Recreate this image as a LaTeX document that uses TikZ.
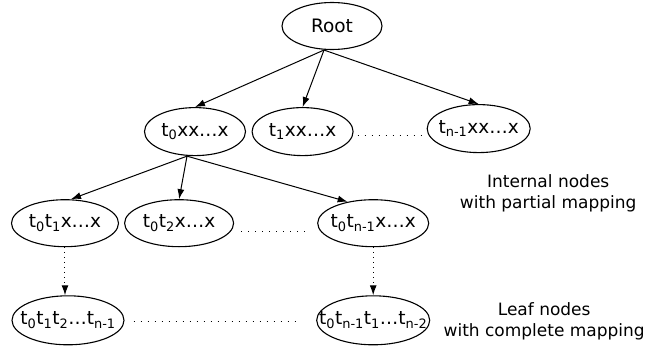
\documentclass[tikz,border=0pt]{standalone}
\usepackage{fontspec}
\setmainfont{DejaVu Sans}
\usetikzlibrary{positioning,shapes.geometric,arrows.meta}
\newcommand{\nlab}[1]{\makebox[0pt]{#1}}

\begin{document}
\begin{tikzpicture}[ellnode/.style={ellipse,draw,line width=1.1pt,inner sep=0pt,minimum height=47pt},
		textnode/.style={align=center,font=\fontsize{17}{21.5}\selectfont},
		edge/.style={line width=1pt,-{Latex[length=10pt,width=7pt]}},
		dotedge/.style={edge,dash pattern=on 1pt off 4pt},
		dotline/.style={line width=1pt,dash pattern=on 1pt off 6pt},
		font=\fontsize{18.5}{21.5}\selectfont]
		\useasboundingbox (-332pt,26pt) rectangle ++(645pt,-348pt);

		\node[ellnode,minimum width=100pt]	at (0,0)												(root)	{\nlab{Root}};
		\node[ellnode,minimum width=101pt,minimum height=48pt,node distance=57pt,below=of root,xshift=-137pt]	(t0)	{\nlab{t\textsubscript{0}xx…x}};
		\node[ellnode,minimum width=101pt,minimum height=48pt,node distance=5.5pt,right=of t0]				(t1)	{\nlab{t\textsubscript{1}xx…x}};
		\node[ellnode,minimum width=103pt,minimum height=48pt,node distance=73pt,right=of t1,yshift=3pt]	(tn1)	{\nlab{t\textsubscript{n-1}xx…x}};
		\node[ellnode,minimum width=107pt,node distance=43pt,below=of t0,xshift=-130pt]		(t0t1)	{\nlab{t\textsubscript{0}t\textsubscript{1}x…x}};
		\node[ellnode,minimum width=109pt,node distance=5pt,right=of t0t1]					(t0t2)	{\nlab{t\textsubscript{0}t\textsubscript{2}x…x}};
		\node[ellnode,minimum width=111pt,node distance=83pt,right=of t0t2]					(t0tn1)	{\nlab{t\textsubscript{0}t\textsubscript{n-1}x…x}};
		\node[ellnode,minimum width=112pt,minimum height=49pt,node distance=48pt,below=of t0t1,xshift=3pt]	(leaf1)	{\nlab{t\textsubscript{0}t\textsubscript{1}t\textsubscript{2}…t\textsubscript{n-1}}};
		\node[ellnode,minimum width=113pt,minimum height=49pt,node distance=48pt,below=of t0tn1]			(leaf2)	{\nlab{t\textsubscript{0}t\textsubscript{n-1}t\textsubscript{1}…t\textsubscript{n-2}}};
		\node[textnode] at ([xshift=175pt,yshift=30pt]t0tn1.center)	(intlab)	{Internal nodes\\with partial mapping};
		\node[textnode] at ([xshift=171pt,yshift=-1pt]leaf2.center)	(leaflab)	{Leaf nodes\\with complete mapping};

		\draw[edge] ([xshift=-8pt]root.south) -- (t0.north);
		\draw[edge] ([xshift=-8pt]root.south) -- (t1.north);
		\draw[edge] ([xshift=-8pt]root.south) -- (tn1.north);
		\draw[edge] ([xshift=-8pt]t0.south) -- ([xshift=6pt]t0t1.north);
		\draw[edge] ([xshift=-8pt]t0.south) -- (t0t2.north);
		\draw[edge] ([xshift=-8pt]t0.south) -- (t0tn1.140);
		\draw[dotedge] (t0t1.south) -- (t0t1.south |- leaf1.north);
		\draw[dotedge] (t0tn1.south) -- (leaf2.north);

		\draw[dotline] ([xshift=4pt,yshift=-4pt]t1.east) -- ([xshift=-4pt,yshift=-7pt]tn1.west);
		\draw[dotline] ([xshift=7pt,yshift=-8pt]t0t2.east) -- ([xshift=-6pt,yshift=-8pt]t0tn1.west);
		\draw[dotline] ([xshift=9pt,yshift=-1pt]leaf1.east) -- ([xshift=-17pt,yshift=-1pt]leaf2.west);
	\end{tikzpicture}
\end{document}
